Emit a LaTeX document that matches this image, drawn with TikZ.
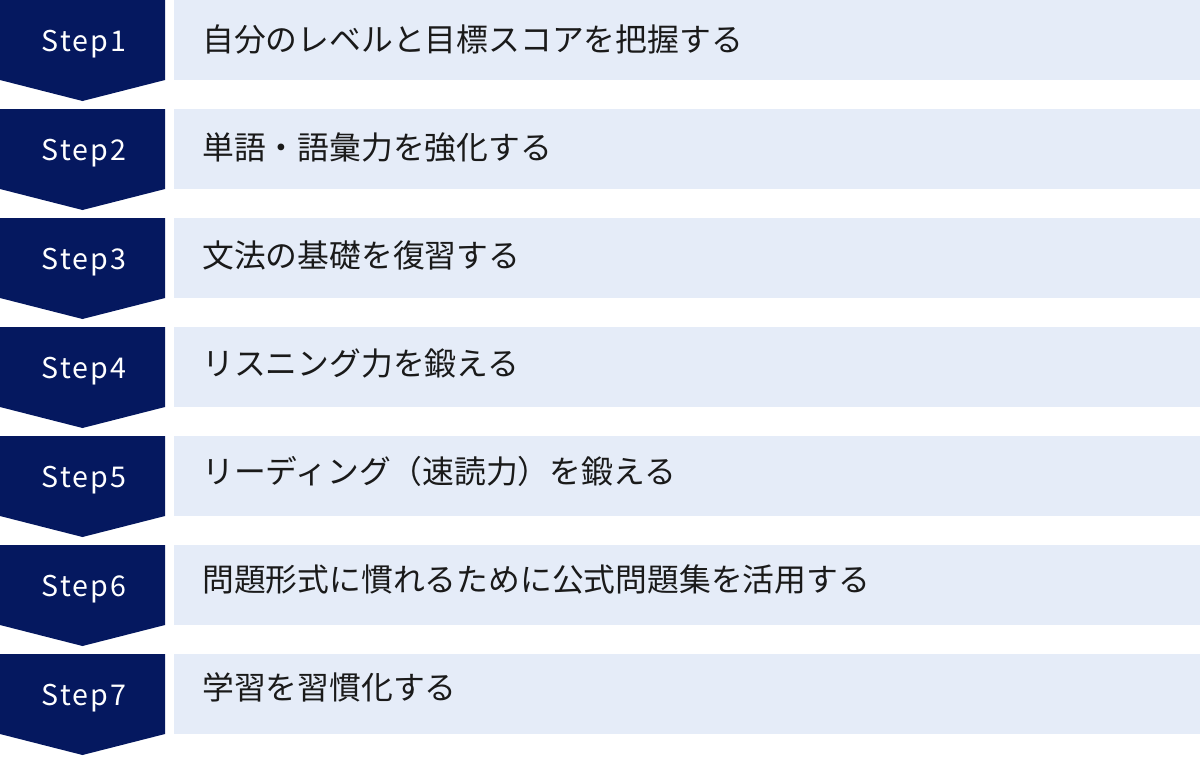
\documentclass[tikz,border=0pt]{standalone}
\usepackage{fontspec}
\setmainfont{Noto Sans CJK JP}
\definecolor{navy}{HTML}{05185F}
\definecolor{lightbar}{HTML}{E5ECF8}
\definecolor{txt}{HTML}{1A1A1A}
\tikzset{
  stepshape/.style={fill=navy, draw=none},
  barshape/.style={fill=lightbar, draw=none},
  steplabel/.style={text=white, font=\fontsize{28.6pt}{34pt}\selectfont\addfontfeature{LetterSpace=7}, inner sep=0pt, anchor=base},
  bartext/.style={text=txt, font=\fontsize{31.8pt}{38pt}\selectfont, anchor=base west, inner sep=0pt}
}
\begin{document}
\begin{tikzpicture}[x=1pt,y=-1pt]
\useasboundingbox (0,0) rectangle (1200,756);
\foreach \k/\t in {1/自分のレベルと目標スコアを把握する,2/単語・語彙力を強化する,3/文法の基礎を復習する,4/リスニング力を鍛える,5/リーディング（速読力）を鍛える,6/問題形式に慣れるために公式問題集を活用する,7/学習を習慣化する}{
  \pgfmathsetmacro{\top}{109*(\k-1)}
  \pgfmathsetmacro{\tb}{51.7+108*(\k-1)}
  \fill[stepshape] (0,\top) -- (165,\top) -- (165,\top+80) -- (82.5,\top+101) -- (0,\top+80) -- cycle;
  \fill[barshape] (174,\top) rectangle (1200,\top+80);
  \node[steplabel] (s\k) at (84,\top+51) {Step\k};
  \node[bartext] (t\k) at (202,\tb) {\t};
}
\end{tikzpicture}
\end{document}
